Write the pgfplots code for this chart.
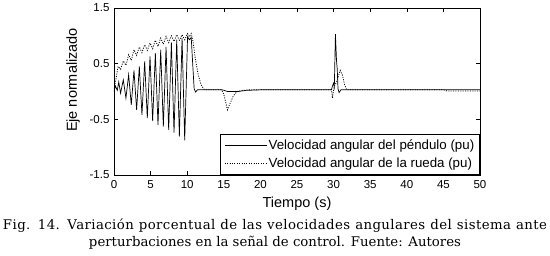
\documentclass[border=0pt]{standalone}
\usepackage{pgfplots}
\pgfplotsset{compat=1.18}
\usepackage{fontspec}
\setmainfont{Liberation Sans}
\newfontfamily\capfont{DejaVu Serif}
\newfontfamily\capfontwide[LetterSpace=3]{DejaVu Serif}
\begin{document}
\begin{tikzpicture}
\useasboundingbox (-114pt,-81pt) rectangle (436pt,175pt);
\begin{axis}[
  at={(0,0)}, anchor=south west,
  scale only axis, width=366pt, height=167pt,
  xmin=0, xmax=50, ymin=-1.5, ymax=1.5,
  xtick={0,5,10,15,20,25,30,35,40,45,50},
  xticklabels={0,5,10,15,20,25,30,35,40,45,50},
  ytick={-1.5,-0.5,0.5,1.5},
  yticklabels={-1.5,-0.5,0.5,1.5},
  tick align=inside,
  major tick length=4pt,
  tick style={black, line width=0.5pt},
  axis line style={line width=0.6pt},
  ticklabel style={font=\fontsize{11.5}{12}\selectfont},
  xticklabel style={yshift=-2pt},
  yticklabel style={xshift=-1pt},
  legend style={at={(1,0)}, anchor=south east, draw=black, line width=0.5pt,
    font=\fontsize{13.3}{14}\selectfont, inner xsep=4pt, inner ysep=4pt,
    nodes={inner sep=1.5pt}, cells={anchor=west}, row sep=4pt},
  legend image code/.code={\draw[#1] (0pt,0pt) -- (42pt,0pt);},
]
\addplot[black, line width=0.7pt] coordinates {
(0,0.0) (0.2,0.1) (0.45,0.02) (0.65,0.17) (0.9,-0.03)
(1.27,0.21) (1.63,-0.12) (2.0,0.3) (2.36,-0.24) (2.73,0.38)
(3.09,-0.33) (3.46,0.45) (3.82,-0.42) (4.19,0.54) (4.55,-0.48)
(4.92,0.63) (5.28,-0.53) (5.65,0.69) (6.01,-0.6) (6.38,0.75)
(6.74,-0.63) (7.11,0.8) (7.47,-0.69) (7.84,0.88) (8.2,-0.74)
(8.57,0.93) (8.93,-0.81) (9.30,0.96) (9.66,-0.88) (10.05,0.98)
(10.3,0.93) (10.55,0.97) (10.75,0.5) (10.95,0.05) (11.15,-0.01)
(11.4,0.03) (14.8,0.03) (15.5,0.0) (17,0.0) (18,0.02) (20,0.03)
(29.7,0.03) (29.85,0.1) (30.0,0.15) (30.1,0.08) (30.25,1.03)
(30.4,0.55) (30.5,0.4) (30.6,0.05) (30.75,-0.02) (31.0,0.03) (50,0.03)
};
\addlegendentry{Velocidad angular del péndulo (pu)}
\addplot[black, line width=0.8pt, dash pattern=on 1pt off 1.4pt] coordinates {
(0,0.05) (0.25,0.2) (0.55,0.45) (0.9,0.4)
(1.27,0.55) (1.63,0.47) (2.0,0.66) (2.36,0.56) (2.73,0.75)
(3.09,0.65) (3.46,0.8) (3.82,0.7) (4.19,0.84) (4.55,0.74)
(4.92,0.87) (5.28,0.77) (5.65,0.92) (6.01,0.81) (6.38,0.96)
(6.74,0.85) (7.11,0.99) (7.47,0.88) (7.84,1.0) (8.2,0.9)
(8.57,1.02) (8.93,0.92) (9.3,1.02) (9.66,0.93) (10.05,1.04)
(10.3,0.98) (10.55,1.04) (10.8,0.9) (11.1,0.6) (11.5,0.3)
(11.9,0.12) (12.3,0.04) (12.6,0.03) (14.7,0.03) (15.0,-0.05)
(15.5,-0.33) (15.9,-0.2) (16.3,-0.08) (16.8,0.0) (17.5,0.02)
(18.5,0.03) (29.7,0.03) (29.85,-0.12) (30.0,0.05) (30.2,0.12)
(30.5,0.2) (30.9,0.38) (31.2,0.3) (31.5,0.12) (31.8,0.03)
(45,0.03) (45.5,0.01) (50,0.01)
};
\addlegendentry{Velocidad angular de la rueda (pu)}
\end{axis}
\node[anchor=base, font=\fontsize{14.5}{15}\selectfont] at (183pt,-33pt) {Tiempo (s)};
\node[rotate=90, anchor=base, font=\fontsize{14.5}{15}\selectfont] at (-37pt,95pt) {Eje normalizado};
\node[anchor=base, inner sep=0pt, font=\capfontwide\fontsize{13.3}{15}\selectfont] at (161pt,-55pt) {\makebox[544pt][s]{Fig. 14. Variación porcentual de las velocidades angulares del sistema ante}};
\node[anchor=base, inner sep=0pt, font=\capfont\fontsize{13.3}{15}\selectfont] at (161pt,-72pt) {perturbaciones en la señal de control. Fuente: Autores};
\end{tikzpicture}
\end{document}
